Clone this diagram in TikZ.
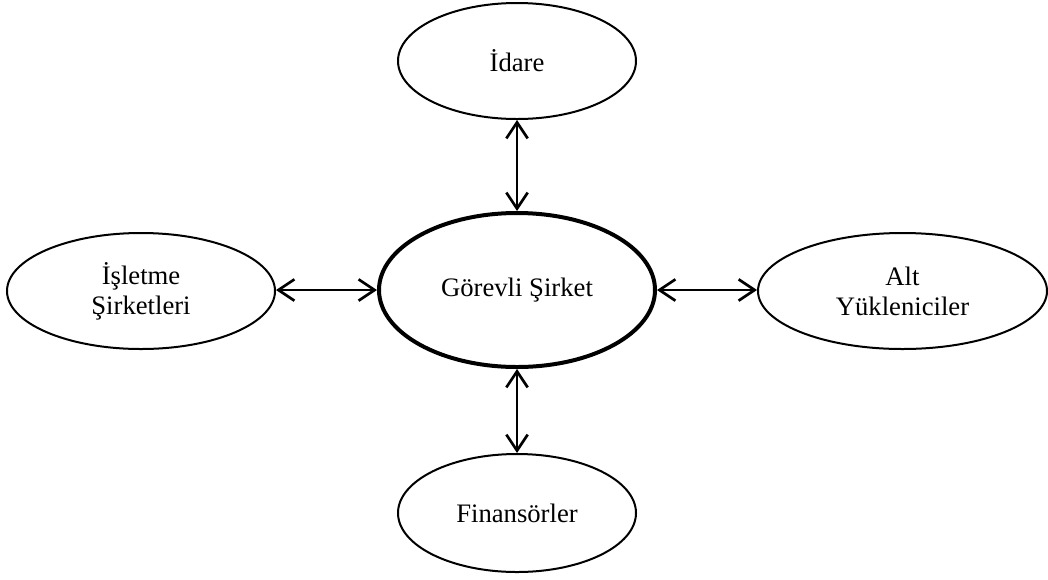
\documentclass[tikz,border=0pt]{standalone}
\usepackage{fontspec}
\setmainfont{Liberation Serif}
\usetikzlibrary{shapes.geometric,arrows.meta}
\tikzset{
  ent/.style={ellipse, draw, line width=1.5pt, inner sep=0pt, align=center,
    font=\fontsize{20}{22.5}\selectfont},
  mainent/.style={ent, line width=3pt},
  link/.style={line width=2pt, {Straight Barb[length=12pt,width=16pt]}-{Straight Barb[length=12pt,width=16pt]}}
}
\begin{document}
\begin{tikzpicture}[x=0.75pt,y=-0.75pt]
\useasboundingbox (0,0) rectangle (1048,579);
\node[mainent, minimum width=276*0.75pt, minimum height=154*0.75pt] (gs) at (517,290) {Görevli Şirket};
\node[ent, minimum width=238*0.75pt, minimum height=116*0.75pt] (id) at (517,61) {İdare};
\node[ent, minimum width=238*0.75pt, minimum height=118*0.75pt] (fi) at (517,513) {Finansörler};
\node[ent, minimum width=268*0.75pt, minimum height=116*0.75pt] (is) at (141,291) {İşletme\\Şirketleri};
\node[ent, minimum width=289*0.75pt, minimum height=116*0.75pt] (ay) at (902.5,291) {Alt\\Yükleniciler};
\draw[link] (id.south) -- (gs.north);
\draw[link] (gs.south) -- (fi.north);
\draw[link] (is.east |- gs.west) -- (gs.west);
\draw[link] (gs.east) -- (ay.west |- gs.east);
\end{tikzpicture}
\end{document}
